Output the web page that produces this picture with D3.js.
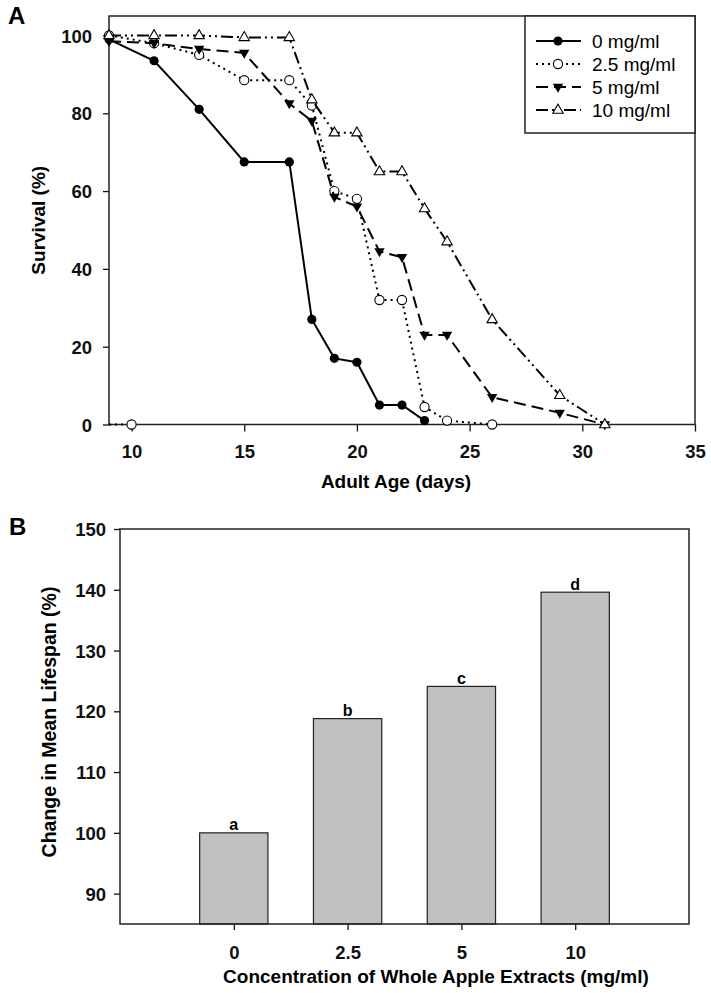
<!DOCTYPE html>
<html><head><meta charset="utf-8">
<script src="https://cdn.jsdelivr.net/npm/d3@7"></script>
<style>
body{margin:0;background:#fff;}
svg{display:block;font-family:"Liberation Sans",Arial,sans-serif;}
</style></head>
<body><svg id="c" width="711" height="993"></svg>
<script>
// ---------- Panel A data ----------
const days0  = [9,11,13,15,17,18,19,20,21,22,23];
const surv0  = [99,93.5,81,67.5,67.5,27,17,16,5,5,1];
const days25 = [9,11,13,15,17,18,19,20,21,22,23,24,26];
const surv25 = [100,98,95,88.5,88.5,82,60,58,32,32,4.5,1,0];
const days5  = [9,11,13,15,17,18,19,20,21,22,23,24,26,29,31];
const surv5  = [98.5,98,96.5,95.5,82.5,78,58.5,56,44.5,43,23,23,7,3,0];
const days10 = [9,11,13,15,17,18,19,20,21,22,23,24,26,29,31];
const surv10 = [100,100,100,99.5,99.5,83.5,75,75,65,65,55.5,47,27,7.5,0];
const strayDays25 = [9,10];
const straySurv25 = [0,0];
const seriesLabels = ["0 mg/ml","2.5 mg/ml","5 mg/ml","10 mg/ml"];
const xTicksA = [10,15,20,25,30,35];
const yTicksA = [0,20,40,60,80,100];

// ---------- Panel B data ----------
const concLabels = ["0","2.5","5","10"];
const lifespan   = [100,118.8,124.1,139.6];
const sigLetters = ["a","b","c","d"];
const yTicksB = [90,100,110,120,130,140,150];

const svg = d3.select("#c");
const tickFont = "18.5px";

// ===== Panel A =====
const A = {l:109, t:16, r:695, b:424.5};
const xA = d3.scaleLinear().domain([9,35]).range([A.l,A.r]);
const yA = d3.scaleLinear().domain([0,105]).range([A.b,A.t]);

svg.append("text").attr("x",8).attr("y",24).attr("font-size","24px").attr("font-weight","bold").text("A");

const axAx = svg.append("g").attr("transform",`translate(0,${A.b})`)
  .call(d3.axisBottom(xA).tickValues(xTicksA).tickSize(7).tickPadding(10).tickSizeOuter(0));
const axAy = svg.append("g").attr("transform",`translate(${A.l},0)`)
  .call(d3.axisLeft(yA).tickValues(yTicksA).tickSize(6).tickPadding(11).tickSizeOuter(0));
[axAx,axAy].forEach(g=>{
  g.select(".domain").remove();
  g.selectAll("line").attr("stroke","#111").attr("stroke-width",1.3);
  g.selectAll("text").attr("font-size",tickFont).attr("font-weight","bold").attr("fill","#111")
   .attr("font-family","Liberation Sans, Arial, sans-serif");
});
axAx.selectAll("text").attr("dy","0.9em");
axAy.selectAll("text").attr("dy","0.36em");

svg.append("rect").attr("x",A.l).attr("y",A.t).attr("width",A.r-A.l).attr("height",A.b-A.t)
  .attr("fill","none").attr("stroke","#222").attr("stroke-width",1.5);

svg.append("text").attr("x",396).attr("y",488).attr("text-anchor","middle")
  .attr("font-size","19px").attr("font-weight","bold").text("Adult Age (days)");
svg.append("text").attr("transform",`translate(45,${(A.t+A.b)/2}) rotate(-90)`)
  .attr("text-anchor","middle").attr("font-size","19px").attr("font-weight","bold").text("Survival (%)");

const dashes = [null,"2,4","12,6","12,4,2,4,2,4"];
const markerType = ["fcircle","ocircle","dtri","utri"];

function drawMarker(g,type,x,y){
  if(type==="fcircle") g.append("circle").attr("cx",x).attr("cy",y).attr("r",4.6).attr("fill","#000");
  else if(type==="ocircle") g.append("circle").attr("cx",x).attr("cy",y).attr("r",4.6).attr("fill","#fff").attr("stroke","#000").attr("stroke-width",1.1);
  else if(type==="dtri") g.append("path").attr("d",`M${x-5.2},${y-3.2}L${x+5.2},${y-3.2}L${x},${y+5.8}Z`).attr("fill","#000");
  else g.append("path").attr("d",`M${x},${y-5.8}L${x+5.2},${y+3.2}L${x-5.2},${y+3.2}Z`).attr("fill","#fff").attr("stroke","#000").attr("stroke-width",1.1);
}

const line = d3.line().x(d=>xA(d[0])).y(d=>yA(d[1]));
const allSeries = [
  d3.zip(days0,surv0), d3.zip(days25,surv25), d3.zip(days5,surv5), d3.zip(days10,surv10)
];
const plot = svg.append("g");
// stray 2.5 segment at day 9-10
plot.append("path").attr("d",line(d3.zip(strayDays25,straySurv25))).attr("fill","none")
  .attr("stroke","#000").attr("stroke-width",1.8).attr("stroke-dasharray",dashes[1]);
drawMarker(plot,"ocircle",xA(strayDays25[1]),yA(straySurv25[1]));

allSeries.forEach((s,i)=>{
  const g = plot.append("g");
  const p = g.append("path").attr("d",line(s)).attr("fill","none").attr("stroke","#000").attr("stroke-width",2);
  if(dashes[i]) p.attr("stroke-dasharray",dashes[i]);
  s.forEach(d=>drawMarker(g,markerType[i],xA(d[0]),yA(d[1])));
});

// legend
svg.append("rect").attr("x",525).attr("y",A.t).attr("width",A.r-525).attr("height",117)
  .attr("fill","#fff").attr("stroke","#222").attr("stroke-width",1.5);
const legRows = [41,64,87,110];
seriesLabels.forEach((lab,i)=>{
  const g = svg.append("g");
  const yy = legRows[i];
  const p = g.append("line").attr("x1",536).attr("x2",581).attr("y1",yy).attr("y2",yy)
    .attr("stroke","#000").attr("stroke-width",2);
  if(dashes[i]) p.attr("stroke-dasharray",dashes[i]);
  drawMarker(g,markerType[i],558,yy);
  g.append("text").attr("x",592).attr("y",yy+7).attr("font-size","19px").text(lab);
});

// ===== Panel B =====
const B = {l:120, t:529, r:689, b:924};
const xB = d3.scalePoint().domain(concLabels).range([B.l,B.r]).padding(1);
const yB = d3.scaleLinear().domain([85,150]).range([B.b,B.t]);
const bw = xB.step()*0.6;

svg.append("text").attr("x",9).attr("y",535).attr("font-size","24px").attr("font-weight","bold").text("B");

const axBx = svg.append("g").attr("transform",`translate(0,${B.b})`)
  .call(d3.axisBottom(xB).tickSize(6).tickPadding(12).tickSizeOuter(0));
const axBy = svg.append("g").attr("transform",`translate(${B.l},0)`)
  .call(d3.axisLeft(yB).tickValues(yTicksB).tickSize(6).tickPadding(8).tickSizeOuter(0));
[axBx,axBy].forEach(g=>{
  g.select(".domain").remove();
  g.selectAll("line").attr("stroke","#111").attr("stroke-width",1.3);
  g.selectAll("text").attr("font-size",tickFont).attr("font-weight","bold").attr("fill","#111")
   .attr("font-family","Liberation Sans, Arial, sans-serif");
});
axBx.selectAll("text").attr("dy","0.9em");
axBy.selectAll("text").attr("dy","0.36em");

svg.append("g").selectAll("rect").data(lifespan).join("rect")
  .attr("x",(d,i)=>xB(concLabels[i])-bw/2).attr("width",bw)
  .attr("y",d=>yB(d)).attr("height",d=>B.b-yB(d))
  .attr("fill","#c0c0c0").attr("stroke","#222").attr("stroke-width",1.2);
svg.append("g").selectAll("text").data(lifespan).join("text")
  .attr("x",(d,i)=>xB(concLabels[i])).attr("y",d=>yB(d)-2.5)
  .attr("text-anchor","middle").attr("font-size","16px").attr("font-weight","bold")
  .text((d,i)=>sigLetters[i]);

svg.append("rect").attr("x",B.l).attr("y",B.t).attr("width",B.r-B.l).attr("height",B.b-B.t)
  .attr("fill","none").attr("stroke","#222").attr("stroke-width",1.5);

svg.append("text").attr("x",436).attr("y",983).attr("text-anchor","middle")
  .attr("font-size","19px").attr("font-weight","bold").text("Concentration of Whole Apple Extracts (mg/ml)");
svg.append("text").attr("transform",`translate(56,722) rotate(-90)`)
  .attr("text-anchor","middle").attr("font-size","19.5px").attr("font-weight","bold").text("Change in Mean Lifespan (%)");
</script></body></html>
